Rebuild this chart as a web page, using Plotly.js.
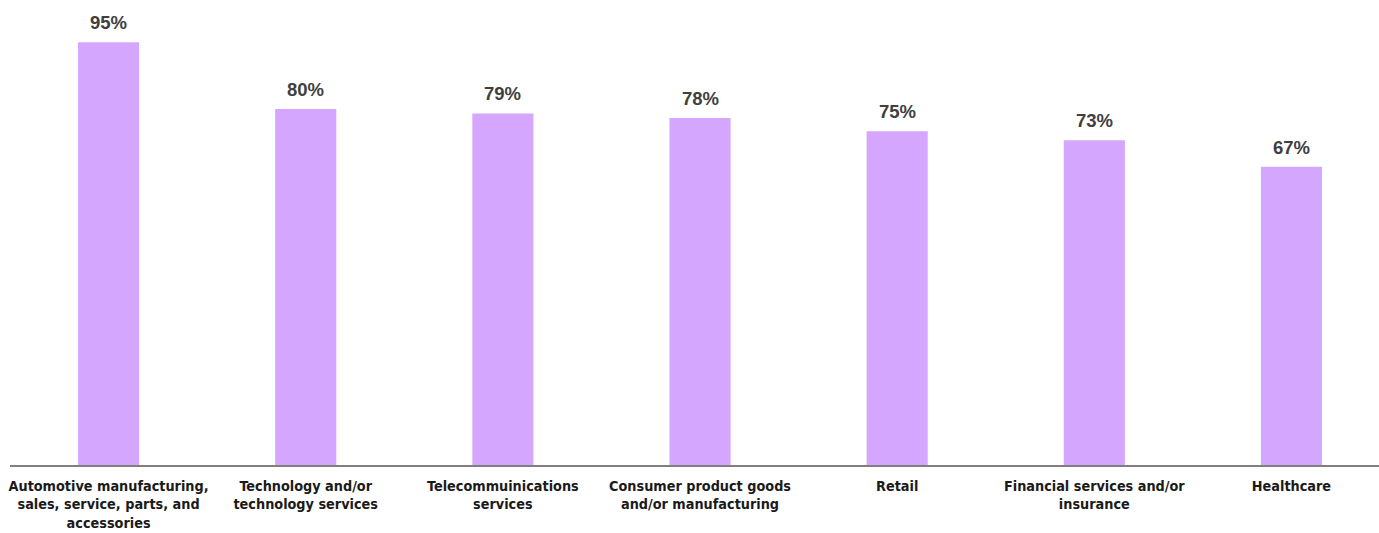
<!DOCTYPE html>
<html><head><meta charset="utf-8">
<script src="https://cdn.plot.ly/plotly-3.0.1.min.js"></script>
<style>html,body{margin:0;padding:0;background:#fff}</style>
</head><body>
<div id="chart" style="width:1379px;height:533px"></div>
<script>
const categories = [
  "Automotive manufacturing,<br>sales, service, parts, and<br>accessories",
  "Technology and/or<br>technology services",
  "Telecommuinications<br>services",
  "Consumer product goods<br>and/or manufacturing",
  "Retail",
  "Financial services and/or<br>insurance",
  "Healthcare"
];
const values = [95, 80, 79, 78, 75, 73, 67];
const labels = values.map(v => v + "%");

const idx = categories.map((c, i) => i);

const trace = {
  type: "bar",
  x: idx,
  y: values,
  marker: {color: "#d5a6fd"},
  hoverinfo: "skip"
};

const annotations = idx.map((i) => ({
  x: i, y: values[i], text: labels[i],
  xref: "x", yref: "y", yanchor: "bottom", showarrow: false, yshift: 7,
  font: {family: "Liberation Sans, Arial, sans-serif", size: 18.5, color: "#404040", weight: 700}
}));

const layout = {
  width: 1379, height: 533,
  margin: {l: 10, r: 0, t: 20, b: 68},
  paper_bgcolor: "#fff", plot_bgcolor: "#fff",
  bargap: 0.69,
  showlegend: false,
  xaxis: {
    range: [-0.5, 6.444],
    tickmode: "array", tickvals: idx, ticktext: categories,
    showline: true, linecolor: "#7f7f7f", linewidth: 1.5,
    showgrid: false, zeroline: false,
    ticks: "outside", ticklen: 7, tickcolor: "rgba(0,0,0,0)",
    tickfont: {family: "DejaVu Sans Condensed, Liberation Sans Narrow, sans-serif", size: 14.3, color: "#1a1a1a", weight: 700}
  },
  yaxis: {
    range: [0, 100], visible: false, showgrid: false, zeroline: false, fixedrange: true
  },
  annotations: annotations
};

Plotly.newPlot("chart", [trace], layout, {displayModeBar: false, staticPlot: true});
</script>
</body></html>
